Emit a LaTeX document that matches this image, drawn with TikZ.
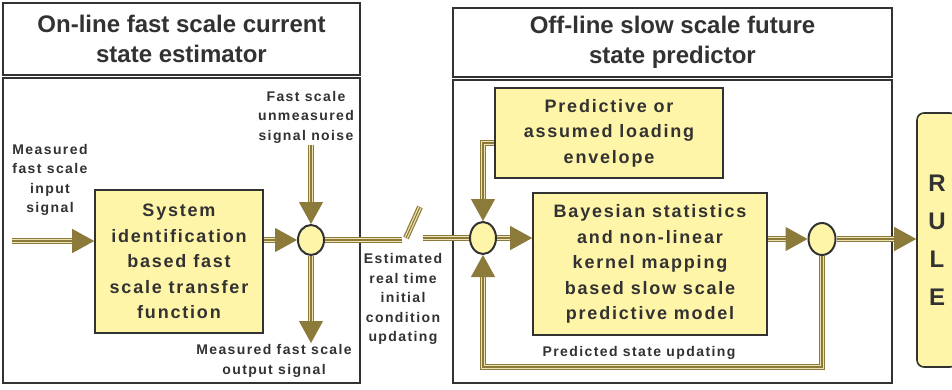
\documentclass[tikz,border=0pt]{standalone}
\usepackage{fontspec}
\setmainfont{Liberation Sans}
\newfontfamily\trk[LetterSpace=10]{Liberation Sans}
\usetikzlibrary{arrows.meta,shapes.geometric}
\definecolor{brn}{RGB}{140,122,58}
\definecolor{lbeige}{RGB}{236,226,180}
\definecolor{boxfill}{RGB}{255,245,168}
\definecolor{dk}{RGB}{50,50,50}
\tikzset{
  panel/.style={draw=dk, line width=1.6pt},
  hdr/.style={panel, font=\bfseries\fontsize{24}{30}\selectfont, text=dk, align=center, inner sep=0pt},
  blk/.style={draw=dk, line width=1.6pt, fill=boxfill, text=dk, align=center, font=\trk\bfseries\fontsize{18}{25.5}\selectfont, inner sep=0pt},
  junc/.style={ellipse, draw=dk, line width=2pt, fill=boxfill, inner sep=0pt},
  lbl/.style={text=dk, align=center, font=\trk\bfseries\fontsize{14}{19.5}\selectfont, inner sep=0pt},
  shaftout/.style={draw=brn, line width=1.2pt, double=lbeige, double distance=3.6pt},
  shaftin/.style={draw=brn, line width=1.1pt},
  headtip/.style={-{Triangle[length=22pt,width=24pt]}},
}
\newcommand\arrowpath[1]{\draw[shaftout,shorten >=20pt] #1; \draw[shaftin,headtip] #1;}
\newcommand\plainpath[1]{\draw[shaftout] #1; \draw[shaftin] #1;}
\begin{document}
\begin{tikzpicture}[x=1pt,y=-1pt]
\useasboundingbox (0,0) rectangle (952,389);
\fill[white] (0,0) rectangle (952,389);
% panels
\node[hdr, minimum width=357pt, minimum height=72pt] (hdrL) at (181.5,39) {On-line fast scale current\\state estimator};
\node[panel, minimum width=357pt, minimum height=305pt, inner sep=0pt] (bodyL) at (181.5,230.5) {};
\node[hdr, minimum width=439pt, minimum height=69pt] (hdrR) at (672.5,42.5) {Off-line slow scale future\\state predictor};
\node[panel, minimum width=439pt, minimum height=303pt, inner sep=0pt] (bodyR) at (672.5,231.5) {};
% blocks
\node[blk, minimum width=168pt, minimum height=143pt] (sys) at (179,261.5) {System\\identification\\based fast\\scale transfer\\function};
\node[blk, minimum width=228pt, minimum height=90pt] (pred) at (609,133) {Predictive or\\assumed loading\\envelope};
\node[blk, minimum width=234pt, minimum height=142pt] (bayes) at (650,264) {Bayesian statistics\\and non-linear\\kernel mapping\\based slow scale\\predictive model};
\node[draw=dk, line width=1.6pt, fill=boxfill, rounded corners=7pt, minimum width=40pt, minimum height=254pt, text=dk, align=center, inner sep=0pt, font=\bfseries\fontsize{24}{38}\selectfont] (rule) at (937,240) {R\\U\\L\\E};
% junctions
\node[junc, minimum width=26pt, minimum height=30pt] (j1) at (311,240) {};
\node[junc, minimum width=26pt, minimum height=32pt] (j2) at (483,238) {};
\node[junc, minimum width=27pt, minimum height=32pt] (j3) at (822,239) {};
% labels
\node[lbl] (lin) at (50,180) {Measured\\fast scale\\input\\signal};
\node[lbl] (lnoise) at (306,117) {Fast scale\\unmeasured\\signal noise};
\node[lbl] (lout) at (274,361) {Measured fast scale\\output signal};
\node[lbl] (lest) at (403,299) {Estimated\\real time\\initial\\condition\\updating};
\node[lbl] (lpred) at (639,353) {Predicted state updating};
% coordinates
\coordinate (in0) at (12,241);
\coordinate (nz) at (311,145);
\coordinate (outtip) at (311,343);
\coordinate (brkL) at (402,240);
\coordinate (brkR) at (423,238);
\coordinate (sl1) at (406,238);
\coordinate (sl2) at (420,207);
\coordinate (fb) at (0,367);
% connectors
\arrowpath{(in0) -- (in0 -| sys.west)}
\arrowpath{(sys.east |- j1) -- (j1.west)}
\arrowpath{(nz) -- (j1.north)}
\arrowpath{(j1.south) -- (outtip)}
\plainpath{(j1.east) -- (brkL)}
\plainpath{(sl1) -- (sl2)}
\plainpath{(brkR) -- (j2.west)}
\arrowpath{(j2.east) -- (bayes.west |- j2)}
\arrowpath{([yshift=-10pt]pred.west) -| (j2.north)}
\arrowpath{(bayes.east |- j3) -- (j3.west)}
\arrowpath{(j3.east) -- (rule.west |- j3)}
\arrowpath{(j3.south) -- (j3.south |- fb) -- (j2.south |- fb) -- (j2.south)}
\end{tikzpicture}
\end{document}
